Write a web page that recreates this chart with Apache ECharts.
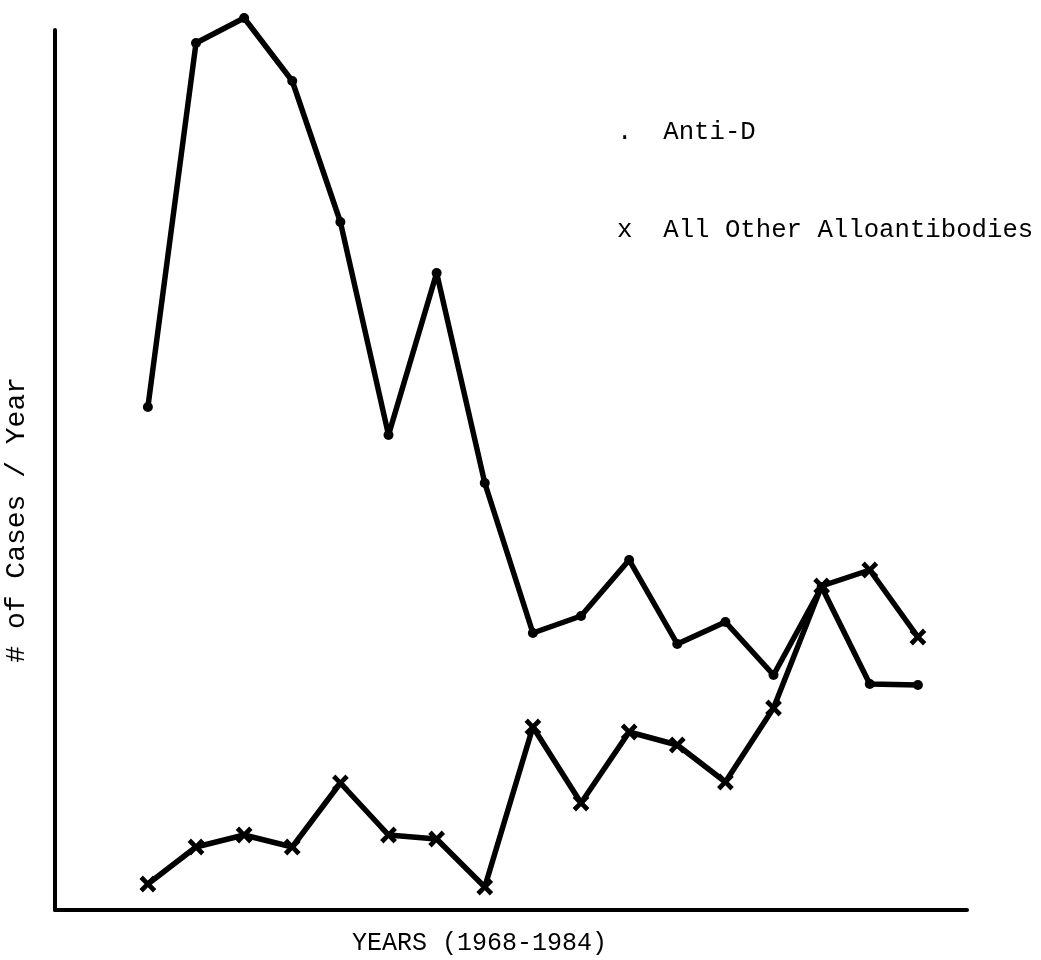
<!DOCTYPE html>
<html>
<head>
<meta charset="utf-8">
<title>Anti-D vs other alloantibodies</title>
<script src="https://cdn.jsdelivr.net/npm/echarts@6/dist/echarts.min.js"></script>
<style>
  html, body { margin: 0; padding: 0; background: #fff; }
  #main { width: 1041px; height: 960px; }
</style>
</head>
<body>
<div id="main"></div>
<script>
// years 1968 - 1984
var years = [1968, 1969, 1970, 1971, 1972, 1973, 1974, 1975, 1976,
  1977, 1978, 1979, 1980, 1981, 1982, 1983, 1984];

// (no tick labels in the original, relative units)
var antiD = [50.3, 86.7, 89.2, 82.9, 68.8, 47.5, 63.7, 42.7, 27.7,
  29.4, 35.0, 26.6, 28.8, 23.5, 32.3, 22.6, 22.5];
var otherAllo = [2.6, 6.3, 7.5, 6.3, 12.7, 7.5, 7.1, 2.3, 18.3,
  10.7, 17.8, 16.5, 12.8, 20.2, 32.4, 34.0, 27.3];

var seriesNames = ["Anti-D", "All Other Alloantibodies"];
var legendMarks = [".", "x"];
var xTitle = "YEARS (1968-1984)";
var yTitle = "# of Cases / Year";

var FONT = "Liberation Mono";

function pairs(vals) {
  var out = [];
  for (var i = 0; i < years.length; i++) {
    out.push([years[i], vals[i]]);
  }
  return out;
}

// plus shape, rotated 45deg later -> an "x"
var crossPath = "path://M3,0L5,0L5,3L8,3L8,5L5,5L5,8L3,8L3,5L0,5L0,3L3,3Z";

var option = {
  animation: false,
  backgroundColor: "#fff",
  grid: {
    left: 55,
    right: 74,
    top: 30,
    bottom: 50,
    outerBoundsMode: "none"
  },
  legend: {
    orient: "vertical",
    left: 607,
    top: 114,
    itemGap: 72,
    icon: "none",
    itemWidth: 0,
    itemHeight: 0,
    selectedMode: false,
    data: seriesNames,
    formatter: function(name) {
      var i = seriesNames.indexOf(name);
      return legendMarks[i] + "  " + name;
    },
    textStyle: {
      fontFamily: FONT,
      fontSize: 25.7,
      color: "#000"
    }
  },
  xAxis: {
    type: "value",
    min: 1966.07,
    max: 1985.02,
    axisLine: {
      show: true,
      lineStyle: { color: "#000", width: 4 }
    },
    axisTick: { show: false },
    axisLabel: { show: false },
    splitLine: { show: false }
  },
  yAxis: {
    type: "value",
    min: 0,
    max: 88,
    axisLine: {
      show: true,
      lineStyle: { color: "#000", width: 4 }
    },
    axisTick: { show: false },
    axisLabel: { show: false },
    splitLine: { show: false }
  },
  graphic: [
    {
      type: "text",
      left: 352,
      top: 931,
      style: {
        text: xTitle,
        fontFamily: FONT,
        fontSize: 25,
        fill: "#000"
      }
    },
    {
      type: "text",
      left: 3,
      top: 377,
      rotation: Math.PI / 2,
      style: {
        text: yTitle,
        fontFamily: FONT,
        fontSize: 28,
        fill: "#000"
      }
    }
  ],
  series: [
    {
      name: seriesNames[0],
      type: "line",
      data: pairs(antiD),
      clip: false,
      symbol: "circle",
      symbolSize: 10,
      itemStyle: { color: "#000" },
      lineStyle: { color: "#000", width: 5.5, join: "round", cap: "round" }
    },
    {
      name: seriesNames[1],
      type: "line",
      data: pairs(otherAllo),
      clip: false,
      symbol: crossPath,
      symbolSize: 19,
      symbolRotate: 45,
      itemStyle: { color: "#000" },
      lineStyle: { color: "#000", width: 5.5, join: "round", cap: "round" }
    }
  ]
};

var myChart = echarts.init(document.getElementById("main"));
myChart.setOption(option);
</script>
</body>
</html>
